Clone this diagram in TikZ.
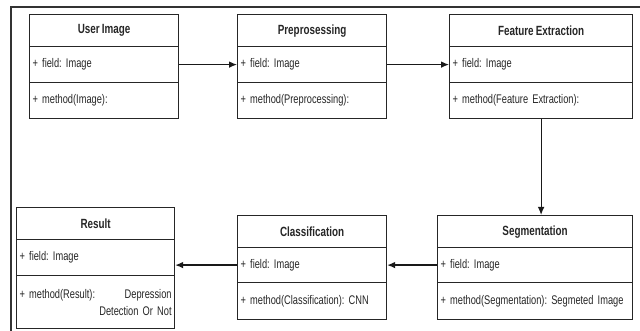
\documentclass[tikz,border=0pt]{standalone}
\usepackage{fontspec}
\setmainfont{Liberation Sans}[FakeStretch=0.74,WordSpace=0.8]
\usetikzlibrary{arrows.meta}
\frenchspacing
\begin{document}
\begin{tikzpicture}[x=0.75pt,y=-0.75pt,
  cell/.style={draw=black!85, line width=0.9pt, anchor=north west, inner xsep=2.25pt, inner ysep=0pt,
    font=\fontsize{9.4}{12.75}\selectfont\frenchspacing, text=black!85},
  head/.style={cell, font=\fontsize{10}{12}\selectfont\bfseries, minimum height=24pt},
  row/.style={cell, align=left},
  arr/.style={draw=black!90, line width=0.9pt, -{Latex[length=6pt,width=5pt]}},
  frame/.style={draw=black!80, line width=0.8pt}
]
\useasboundingbox (0,0) rectangle (640,331);
\draw[frame] (11,331) -- (11,7) -- (640,7);

% User Image
\node[head, minimum width=111.75pt] (u-t) at (29,14) {User Image};
\node[row, text width=107.25pt, minimum height=27pt] (u-f) at (29,46) {+ field: Image};
\node[row, text width=107.25pt, minimum height=27pt] (u-m) at (29,82) {+ method(Image):};

% Preprocessing
\node[head, minimum width=111.75pt] (p-t) at (237,14) {Preprosessing};
\node[row, text width=107.25pt, minimum height=27pt] (p-f) at (237,46) {+ field: Image};
\node[row, text width=107.25pt, minimum height=27pt] (p-m) at (237,82) {+ method(Preprocessing):};

% Feature Extraction
\node[head, minimum width=137.25pt] (f-t) at (449,14) {Feature Extraction};
\node[row, text width=132.75pt, minimum height=27pt] (f-f) at (449,46) {+ field: Image};
\node[row, text width=132.75pt, minimum height=27pt] (f-m) at (449,82) {+ method(Feature Extraction):};

% Segmentation
\node[head, minimum width=146.25pt] (s-t) at (437,215) {Segmentation};
\node[row, text width=141.75pt, minimum height=26.25pt] (s-f) at (437,247) {+ field: Image};
\node[row, text width=141.75pt, minimum height=27.75pt] (s-m) at (437,282) {+ method(Segmentation): Segmeted Image};

% Classification
\node[head, minimum width=111.75pt] (c-t) at (237,215) {Classification};
\node[row, text width=107.25pt, minimum height=26.25pt] (c-f) at (237,247) {+ field: Image};
\node[row, text width=107.25pt, minimum height=27.75pt] (c-m) at (237,282) {+ method(Classification): CNN};

% Result
\node[head, minimum width=118.5pt] (r-t) at (16,207) {Result};
\node[row, text width=114pt, minimum height=27pt] (r-f) at (16,239) {+ field: Image};
\node[row, text width=114pt, minimum height=39.75pt] (r-m) at (16,275)
  {+ method(Result):\hfill Depression\hspace*{5pt}\\\hspace*{\fill}Detection Or Not};

% connectors
\draw[arr] (u-f.east) -- (p-f.west);
\draw[arr] (p-f.east) -- (f-f.west);
\draw[arr] (f-m.south) -- (f-m.south |- s-t.north);
\draw[arr] (s-f.west) -- (c-f.east);
\draw[arr] (c-f.west) -- (r-f.east |- c-f.west);
\end{tikzpicture}
\end{document}
